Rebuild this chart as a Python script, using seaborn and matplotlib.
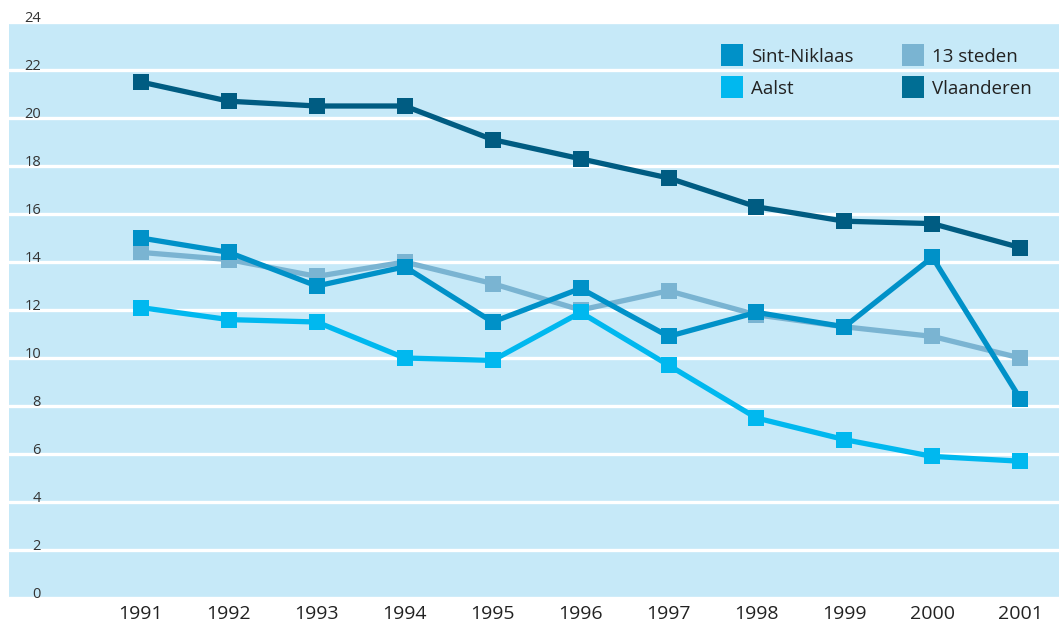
import pandas as pd
import matplotlib.pyplot as plt
import seaborn as sns
from matplotlib.lines import Line2D

jaren = [1991, 1992, 1993, 1994, 1995, 1996, 1997, 1998, 1999, 2000, 2001]
vlaanderen = [21.5, 20.7, 20.5, 20.5, 19.1, 18.3, 17.5, 16.3, 15.7, 15.6, 14.6]
steden13 = [14.4, 14.1, 13.4, 14.0, 13.1, 12.0, 12.8, 11.8, 11.3, 10.9, 10.0]
sint_niklaas = [15.0, 14.4, 13.0, 13.8, 11.5, 12.9, 10.9, 11.9, 11.3, 14.2, 8.3]
aalst = [12.1, 11.6, 11.5, 10.0, 9.9, 11.9, 9.7, 7.5, 6.6, 5.9, 5.7]

reeksen = ['Vlaanderen', '13 steden', 'Sint-Niklaas', 'Aalst']
kleuren = {'Sint-Niklaas': '#0091c8', '13 steden': '#7ab4d2',
           'Aalst': '#00b8ef', 'Vlaanderen': '#005c82'}

df = pd.DataFrame({
    'jaar': jaren * 4,
    'waarde': vlaanderen + steden13 + sint_niklaas + aalst,
    'regio': [r for r in reeksen for _ in jaren],
})

sns.set_style('white')
plt.rcParams['font.family'] = ['Open Sans', 'DejaVu Sans']

fig = plt.figure(figsize=(10.59, 6.26), dpi=100)
ax = fig.add_axes([9 / 1059, 28 / 626, 1050 / 1059, 576 / 626])
ax.set_facecolor('#c6e9f8')

for r in reeksen:
    sub = df[df['regio'] == r]
    sns.lineplot(data=sub, x='jaar', y='waarde', color=kleuren[r], lw=3.8,
                 marker='s', markersize=11.5, markeredgewidth=0, ax=ax)

ax.set_xlim(1989.5, 2001.44)
ax.set_ylim(0, 24)
ax.set_xticks(jaren)
ax.set_xticklabels([str(j) for j in jaren], fontsize=14, color='#222222')
ax.set_yticks(range(0, 25, 2))
ax.set_yticklabels([str(v) for v in range(0, 25, 2)], fontsize=10.5, color='#333333')
for lab in ax.get_yticklabels():
    lab.set_verticalalignment('baseline')
ax.tick_params(axis='y', length=0, pad=-23)
ax.tick_params(axis='x', length=0, pad=5)
ax.grid(axis='y', color='white', lw=2.4)
ax.set_axisbelow(True)
for s in ax.spines.values():
    s.set_visible(False)
ax.set_xlabel('')
ax.set_ylabel('')

volgorde = ['Sint-Niklaas', 'Aalst', '13 steden', 'Vlaanderen']
legenda_kleur = dict(kleuren, Vlaanderen='#006e94')
handles = [Line2D([], [], ls='', marker='s', markersize=16,
                  markerfacecolor=legenda_kleur[r], markeredgewidth=0) for r in volgorde]
ax.legend(handles, volgorde, ncol=2, loc='upper right', bbox_to_anchor=(0.99, 0.985),
          frameon=False, fontsize=13.5, handlelength=1.0, handletextpad=0.5,
          columnspacing=2.7, labelspacing=0.75, labelcolor='#222222')

fig.savefig('out.png', dpi=100)
